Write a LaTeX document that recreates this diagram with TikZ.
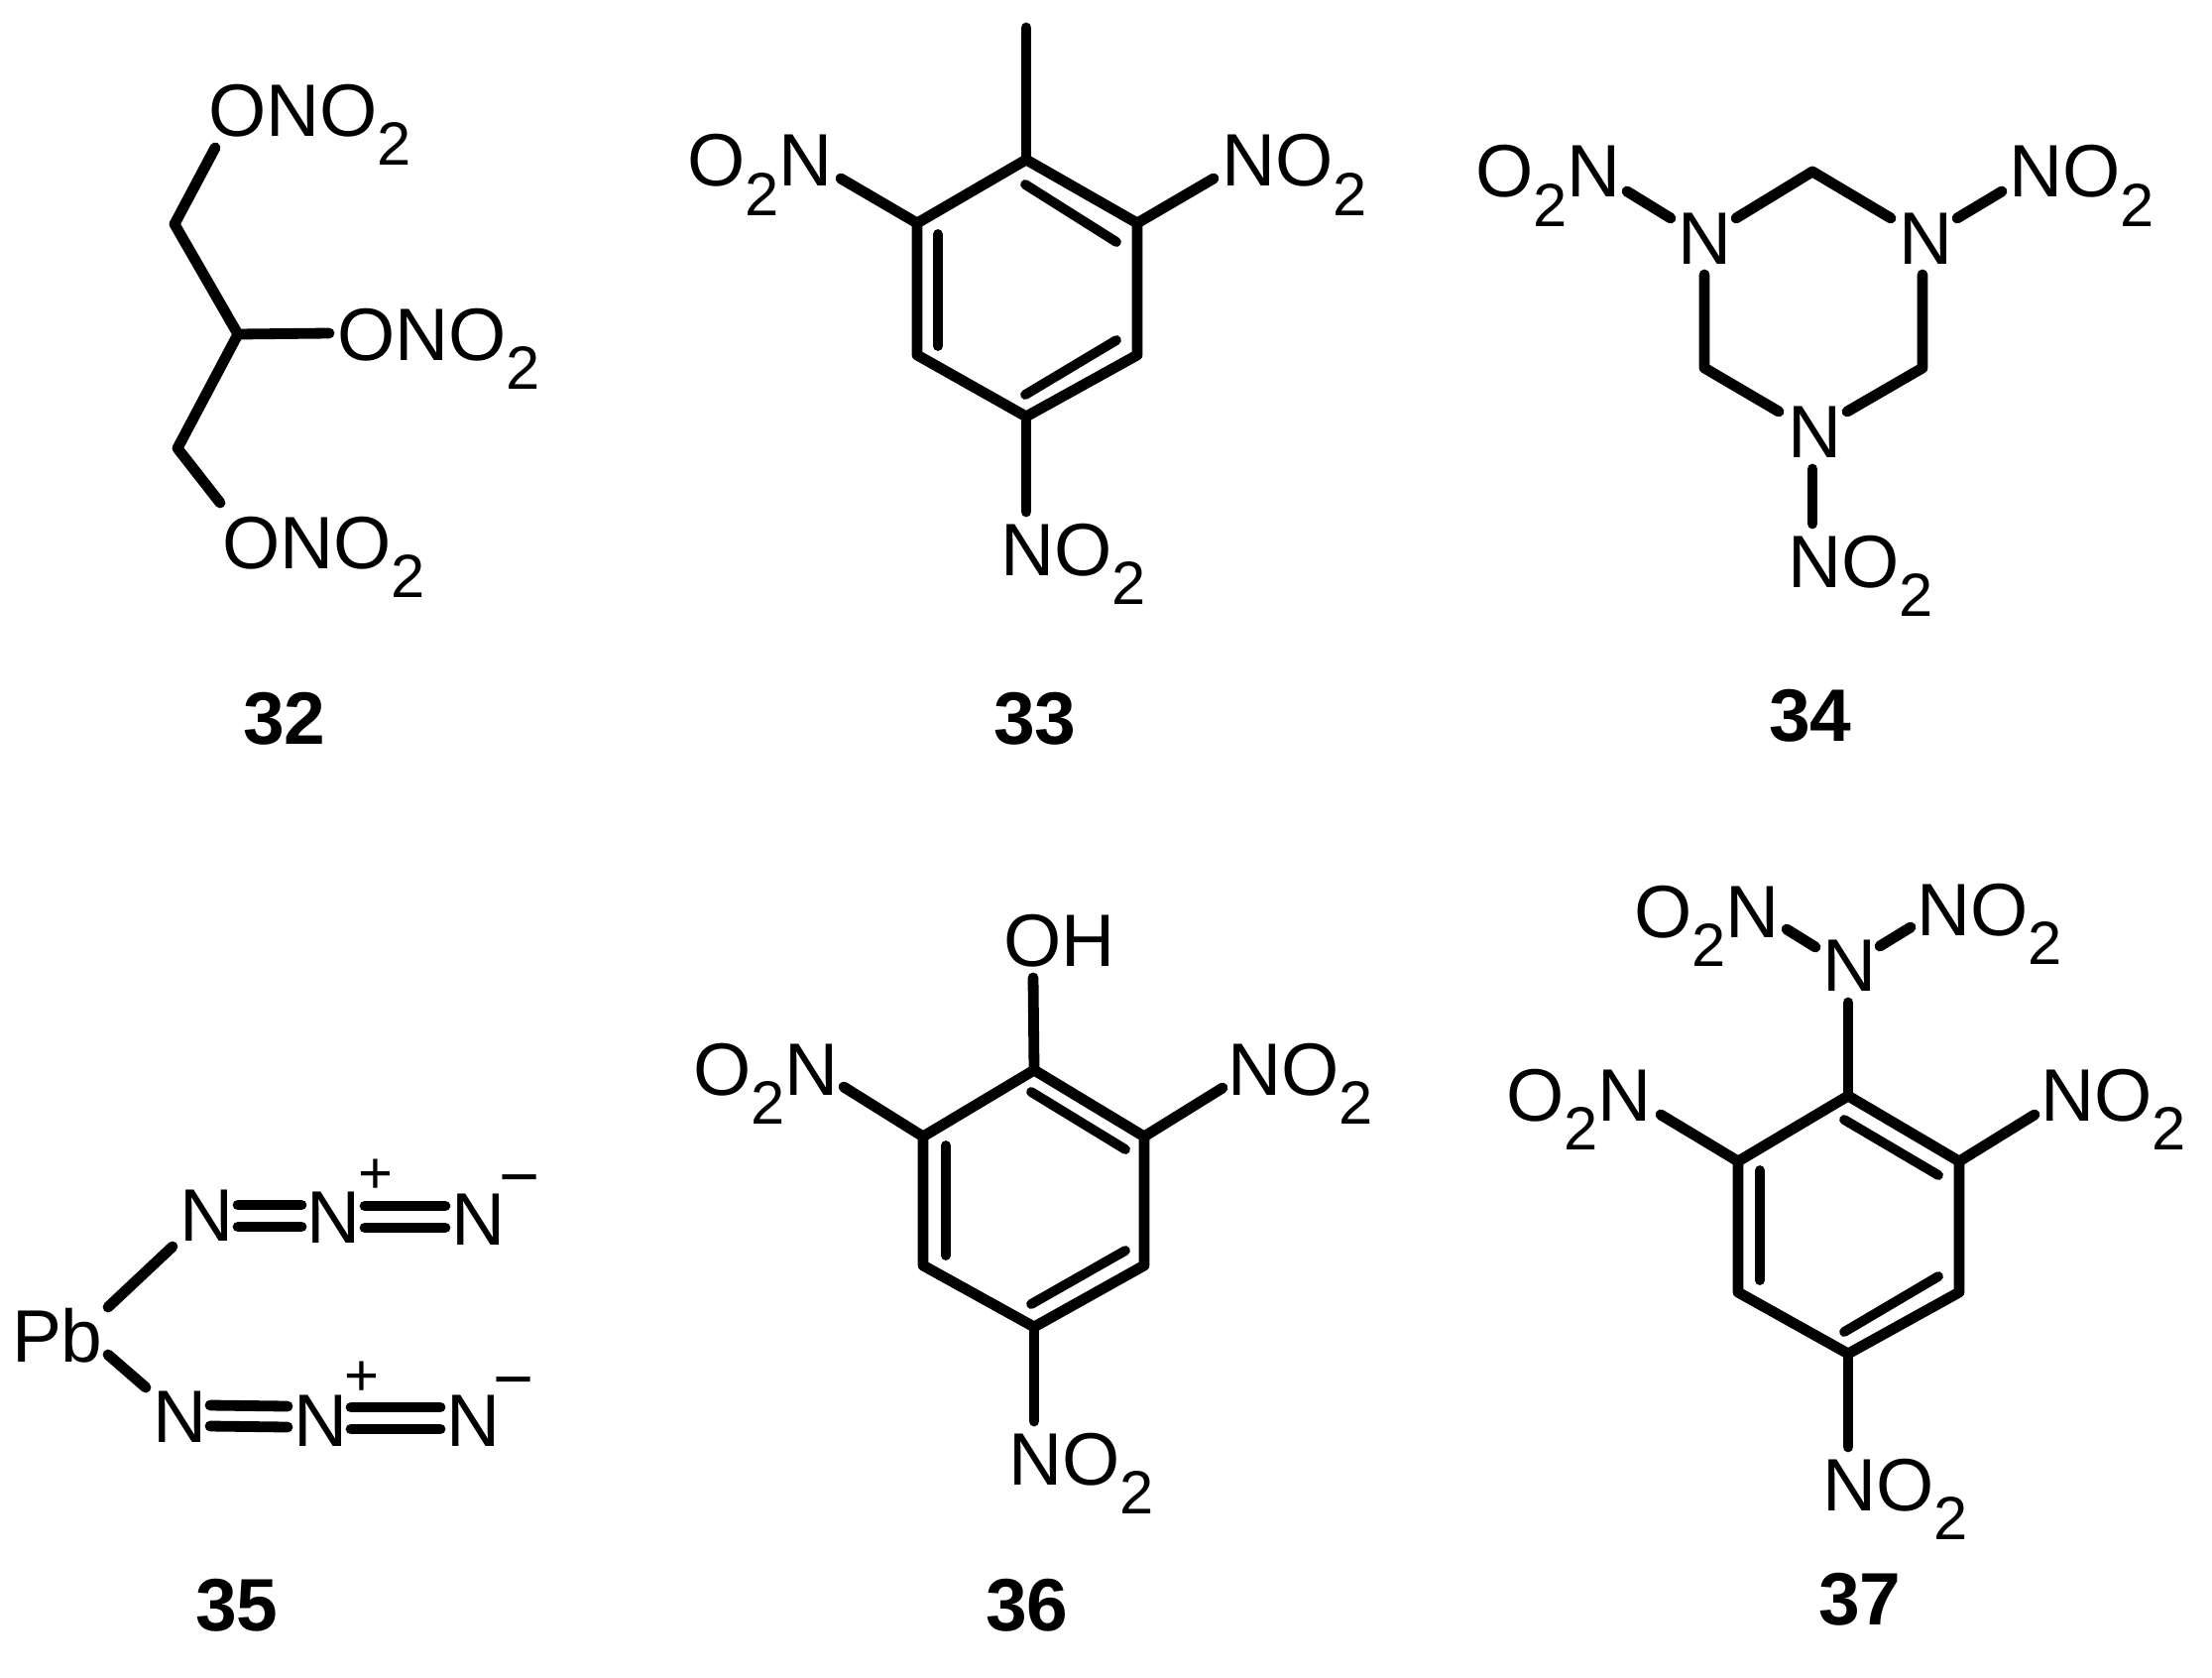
\documentclass[tikz,border=0pt]{standalone}
\usepackage{fontspec}
\setmainfont{Liberation Sans}
\newcommand\subnum[1]{\raisebox{-0.295cm}{\fontsize{17.5pt}{17.5pt}\selectfont #1}}
\tikzset{
  atom/.style={anchor=base west,inner sep=0pt,outer sep=0pt,font=\fontsize{21.3pt}{21.3pt}\selectfont},
  num/.style={anchor=base west,inner sep=0pt,outer sep=0pt,font=\fontsize{21.3pt}{21.3pt}\selectfont\bfseries},
  plusc/.style={inner sep=0pt,outer sep=0pt,font=\fontsize{17pt}{17pt}\selectfont},
  minusc/.style={inner sep=0pt,outer sep=0pt,font=\fontsize{20pt}{20pt}\selectfont},
  bond/.style={line width=0.108cm,line cap=round,line join=round,black},
  inner/.style={line width=0.098cm,line cap=round,black}
}
\begin{document}
\begin{tikzpicture}[x=0.01cm,y=-0.01cm]
\useasboundingbox (0,0) rectangle (2231,1691);
\fill[white] (0,0) rectangle (2231,1691);

% ---- 32
\node[atom] (a1) at (210,137) {ONO\subnum{2}};
\node[atom] (a2) at (340,363) {ONO\subnum{2}};
\node[atom] (a3) at (224,573) {ONO\subnum{2}};
\node[num] (n32) at (245,750) {32};
\coordinate (p1) at (217,149);
\coordinate (p2) at (176,226);
\coordinate (p3) at (240,337);
\coordinate (p4) at (332,336);
\coordinate (p5) at (179,452);
\coordinate (p6) at (222,507);
\draw[bond] (p1) -- (p2) -- (p3) -- (p5) -- (p6);
\draw[bond] (p3) -- (p4);

% ---- 33
\node[atom] (b1) at (693,188) {O\subnum{2}N};
\node[atom] (b2) at (1232,188) {NO\subnum{2}};
\node[atom] (b3) at (1009,580) {NO\subnum{2}};
\node[num] (n33) at (1002,750) {33};
\coordinate (q0) at (1035,28);
\coordinate (q1) at (1035,161);
\coordinate (q2) at (1147,225);
\coordinate (q3) at (1147,358);
\coordinate (q4) at (1035,420);
\coordinate (q5) at (925,358);
\coordinate (q6) at (925,225);
\coordinate (qa) at (848,180);
\coordinate (qb) at (1224,180);
\coordinate (qc) at (1035,516);
\coordinate (qi1) at (1034,186);
\coordinate (qi2) at (1126,244);
\coordinate (qi3) at (946,236);
\coordinate (qi4) at (946,349);
\coordinate (qi5) at (1126,343);
\coordinate (qi6) at (1034,398);
\draw[bond] (q1) -- (q2) -- (q3) -- (q4) -- (q5) -- (q6) -- cycle;
\draw[bond] (q0) -- (q1);
\draw[bond] (qa) -- (q6);
\draw[bond] (qb) -- (q2);
\draw[bond] (qc) -- (q4);
\draw[inner] (qi1) -- (qi2);
\draw[inner] (qi3) -- (qi4);
\draw[inner] (qi5) -- (qi6);

% ---- 34
\node[atom] (c1) at (1488,199) {O\subnum{2}N};
\node[atom] (c2) at (2026,199) {NO\subnum{2}};
\node[atom] (c3) at (1692,266) {N};
\node[atom] (c4) at (1915,266) {N};
\node[atom] (c5) at (1803,461) {N};
\node[atom] (c6) at (1803,592) {NO\subnum{2}};
\node[num] (n34) at (1784,747) {34};
\coordinate (r1) at (1641,193);
\coordinate (r2) at (1685,220);
\coordinate (r3) at (2019,193);
\coordinate (r4) at (1974,220);
\coordinate (r5) at (1751,220);
\coordinate (r6) at (1828,173);
\coordinate (r7) at (1907,220);
\coordinate (r8) at (1719,277);
\coordinate (r9) at (1719,371);
\coordinate (r10) at (1794,415);
\coordinate (r11) at (1939,277);
\coordinate (r12) at (1939,371);
\coordinate (r13) at (1863,415);
\coordinate (r14) at (1828,473);
\coordinate (r15) at (1828,528);
\draw[bond] (r1) -- (r2);
\draw[bond] (r3) -- (r4);
\draw[bond] (r5) -- (r6) -- (r7);
\draw[bond] (r8) -- (r9) -- (r10);
\draw[bond] (r11) -- (r12) -- (r13);
\draw[bond] (r14) -- (r15);

% ---- 35
\node[atom] (d0) at (12,1373) {Pb};
\node[atom] (d1) at (181,1251) {N};
\node[atom] (d2) at (309,1253) {N};
\node[atom] (d3) at (455,1255) {N};
\node[plusc] (dp1) at (379,1186) {+};
\node[minusc] (dm1) at (524,1198) {−};
\node[atom] (d4) at (154,1454) {N};
\node[atom] (d5) at (296,1458) {N};
\node[atom] (d6) at (450,1458) {N};
\node[plusc] (dp2) at (365,1390) {+};
\node[minusc] (dm2) at (518,1402) {−};
\node[num] (n35) at (197,1644) {35};
\coordinate (s1) at (109,1318);
\coordinate (s2) at (174,1257);
\coordinate (s3) at (109,1366);
\coordinate (s4) at (147,1399);
\coordinate (s5) at (240,1215);
\coordinate (s6) at (304,1215);
\coordinate (s7) at (240,1237);
\coordinate (s8) at (304,1237);
\coordinate (s9) at (368,1216);
\coordinate (s10) at (449,1216);
\coordinate (s11) at (368,1238);
\coordinate (s12) at (449,1238);
\coordinate (s13) at (212,1417);
\coordinate (s14) at (290,1418);
\coordinate (s15) at (212,1438);
\coordinate (s16) at (290,1439);
\coordinate (s17) at (354,1419);
\coordinate (s18) at (444,1419);
\coordinate (s19) at (354,1441);
\coordinate (s20) at (444,1441);
\draw[bond] (s1) -- (s2);
\draw[bond] (s3) -- (s4);
\draw[bond] (s5) -- (s6);
\draw[bond] (s7) -- (s8);
\draw[bond] (s9) -- (s10);
\draw[bond] (s11) -- (s12);
\draw[bond] (s13) -- (s14);
\draw[bond] (s15) -- (s16);
\draw[bond] (s17) -- (s18);
\draw[bond] (s19) -- (s20);

% ---- 36
\node[atom] (e0) at (1012,974) {OH};
\node[atom] (e1) at (699,1104) {O\subnum{2}N};
\node[atom] (e2) at (1238,1104) {NO\subnum{2}};
\node[atom] (e3) at (1017,1497) {NO\subnum{2}};
\node[num] (n36) at (994,1644) {36};
\coordinate (t0) at (1042,986);
\coordinate (t1) at (1043,1079);
\coordinate (t2) at (1154,1146);
\coordinate (t3) at (1154,1276);
\coordinate (t4) at (1043,1338);
\coordinate (t5) at (931,1276);
\coordinate (t6) at (931,1146);
\coordinate (ta) at (851,1096);
\coordinate (tb) at (1233,1097);
\coordinate (tc) at (1043,1433);
\coordinate (ti1) at (1040,1101);
\coordinate (ti2) at (1135,1159);
\coordinate (ti3) at (954,1155);
\coordinate (ti4) at (954,1266);
\coordinate (ti5) at (1135,1261);
\coordinate (ti6) at (1040,1315);
\draw[bond] (t1) -- (t2) -- (t3) -- (t4) -- (t5) -- (t6) -- cycle;
\draw[bond] (t0) -- (t1);
\draw[bond] (ta) -- (t6);
\draw[bond] (tb) -- (t2);
\draw[bond] (tc) -- (t4);
\draw[inner] (ti1) -- (ti2);
\draw[inner] (ti3) -- (ti4);
\draw[inner] (ti5) -- (ti6);

% ---- 37
\node[atom] (f0) at (1648,945) {O\subnum{2}N};
\node[atom] (f1) at (1933,943) {NO\subnum{2}};
\node[atom] (f2) at (1838,999) {N};
\node[atom] (f3) at (1519,1130) {O\subnum{2}N};
\node[atom] (f4) at (2058,1130) {NO\subnum{2}};
\node[atom] (f5) at (1838,1523) {NO\subnum{2}};
\node[num] (n37) at (1834,1638) {37};
\coordinate (u0a) at (1802,937);
\coordinate (u0b) at (1831,955);
\coordinate (u0c) at (1896,954);
\coordinate (u0d) at (1927,935);
\coordinate (u0) at (1864,1011);
\coordinate (u1) at (1864,1105);
\coordinate (u2) at (1976,1171);
\coordinate (u3) at (1976,1303);
\coordinate (u4) at (1864,1365);
\coordinate (u5) at (1753,1303);
\coordinate (u6) at (1753,1171);
\coordinate (ua) at (1675,1124);
\coordinate (ub) at (2052,1124);
\coordinate (uc) at (1864,1459);
\coordinate (ui1) at (1860,1129);
\coordinate (ui2) at (1955,1185);
\coordinate (ui3) at (1775,1180);
\coordinate (ui4) at (1775,1291);
\coordinate (ui5) at (1955,1287);
\coordinate (ui6) at (1860,1343);
\draw[bond] (u1) -- (u2) -- (u3) -- (u4) -- (u5) -- (u6) -- cycle;
\draw[bond] (u0a) -- (u0b);
\draw[bond] (u0c) -- (u0d);
\draw[bond] (u0) -- (u1);
\draw[bond] (ua) -- (u6);
\draw[bond] (ub) -- (u2);
\draw[bond] (uc) -- (u4);
\draw[inner] (ui1) -- (ui2);
\draw[inner] (ui3) -- (ui4);
\draw[inner] (ui5) -- (ui6);
\end{tikzpicture}
\end{document}
